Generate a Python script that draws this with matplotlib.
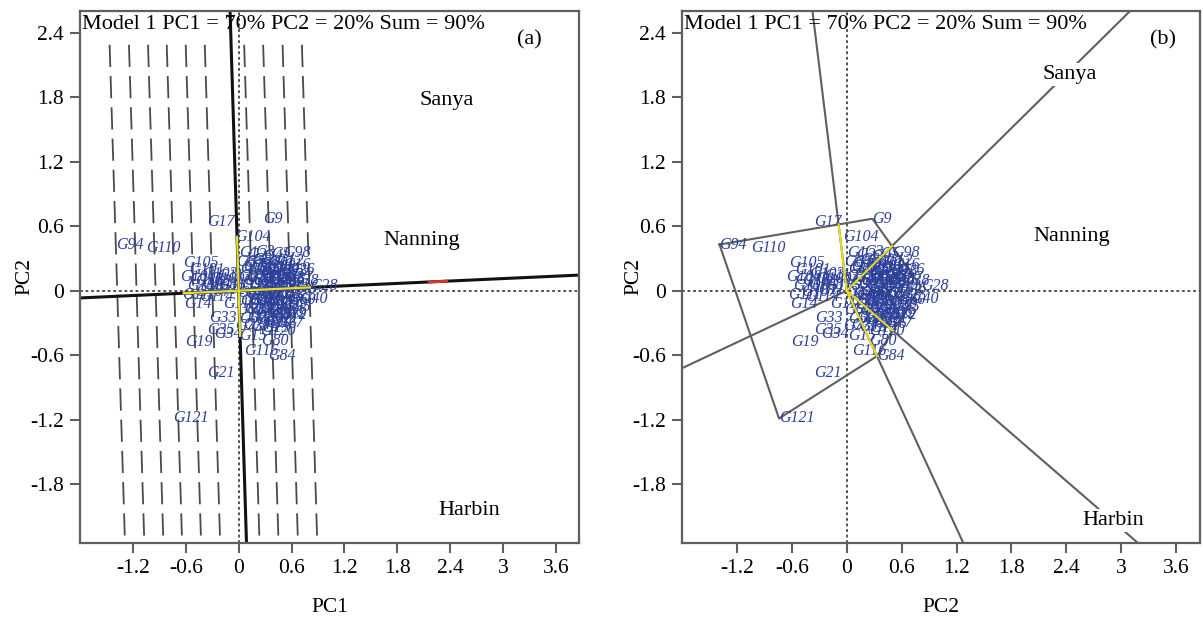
import numpy as np
import matplotlib.pyplot as plt

plt.rcParams['font.family'] = ['Liberation Serif', 'DejaVu Serif']
plt.rcParams['lines.scale_dashes'] = False

# genotype scores (PC1, PC2), same scores in both panels
geno_names = [
    "G94", "G110", "G17", "G9", "G104", "G98", "G105", "G28", "G40", "G14",
    "G19", "G21", "G121", "G84", "G80", "G116", "G33", "G35", "G13", "G34",
    "G15",
    "G100", "G101", "G102", "G103", "G106", "G107", "G108", "G109", "G111",
    "G112", "G113", "G114", "G115", "G117", "G118",
    "G1", "G2", "G3", "G4", "G5", "G6", "G7", "G8", "G10", "G11",
    "G12", "G16", "G18", "G20", "G22", "G23", "G24", "G25", "G26", "G27",
    "G29", "G30", "G31", "G32", "G36", "G37", "G38", "G39", "G41", "G42",
    "G43", "G44", "G45", "G46", "G47", "G48", "G49", "G50", "G51", "G52",
    "G53", "G54", "G55", "G56", "G57", "G58", "G59", "G60", "G61", "G62",
    "G63", "G64", "G65", "G66", "G67", "G68", "G69", "G70", "G71", "G72",
    "G73", "G74", "G75", "G76", "G77",
    "G78", "G79", "G81", "G82", "G83", "G85", "G86", "G87", "G88", "G89",
    "G90", "G91", "G92", "G93", "G95", "G96", "G97", "G99", "G119", "G120",
]
geno_pc1 = [
    -1.39, -1.05, -0.36, 0.28, -0.04, 0.50, -0.63, 0.81, 0.70, -0.62,
    -0.61, -0.36, -0.74, 0.33, 0.25, 0.06, -0.34, -0.36, 0.26, -0.28,
    0.01,
    -0.66, -0.56, -0.49, -0.41, -0.59, -0.50, -0.42, -0.33, -0.64,
    -0.31, -0.25, -0.45, -0.22, -0.18, -0.56,
    0.00, 0.10, 0.19, 0.28, 0.37, -0.03, 0.06, 0.15, 0.24, 0.33,
    0.42, 0.50, 0.02, 0.11, 0.20, 0.29, 0.38, 0.47, 0.55, -0.01,
    0.08, 0.17, 0.26, 0.35, 0.44, 0.53, 0.60, 0.03, 0.12, 0.21,
    0.30, 0.39, 0.48, 0.57, -0.02, 0.07, 0.16, 0.25, 0.34, 0.43,
    0.52, 0.02, 0.11, 0.20, 0.29, 0.38, 0.47, 0.56, -0.03, 0.06,
    0.15, 0.24, 0.33, 0.42, 0.01, 0.10, 0.19, 0.28, 0.37, 0.46,
    -0.04, 0.05, 0.14, 0.35, 0.42,
    0.05, 0.14, 0.24, 0.33, 0.42, 0.05, 0.15, 0.25, 0.34, 0.44,
    0.10, 0.20, 0.30, 0.40, 0.50, 0.09, 0.19, 0.29, 0.38, 0.24,
]
geno_pc2 = [
    0.43, 0.40, 0.64, 0.67, 0.50, 0.35, 0.26, 0.04, -0.08, -0.12,
    -0.48, -0.77, -1.19, -0.61, -0.47, -0.56, -0.25, -0.37, -0.35, -0.40,
    -0.42,
    0.13, 0.19, 0.09, 0.16, 0.04, -0.01, 0.05, 0.11, -0.04,
    0.01, 0.14, -0.06, 0.04, -0.12, 0.10,
    0.35, 0.33, 0.36, 0.32, 0.34, 0.27, 0.26, 0.29, 0.25, 0.27,
    0.28, 0.24, 0.20, 0.19, 0.21, 0.18, 0.20, 0.17, 0.19, 0.13,
    0.12, 0.14, 0.11, 0.13, 0.10, 0.12, 0.09, 0.05, 0.06, 0.04,
    0.06, 0.03, 0.05, 0.02, -0.02, -0.03, -0.01, -0.04, -0.02, -0.03,
    -0.05, -0.10, -0.09, -0.11, -0.08, -0.10, -0.12, -0.09, -0.18, -0.17,
    -0.19, -0.16, -0.18, -0.20, -0.26, -0.25, -0.27, -0.24, -0.26, -0.23,
    -0.33, -0.32, -0.34, -0.31, -0.30,
    0.22, 0.23, 0.16, 0.22, 0.15, 0.09, 0.10, 0.01, 0.09, 0.07,
    -0.05, -0.06, -0.13, -0.06, -0.15, -0.13, -0.22, -0.30, -0.22, -0.38,
]

# which-won-where polygon vertices, in drawing order
vertex_names = ["G94", "G9", "G28", "G84", "G121"]

# environment labels
env_names = ["Sanya", "Nanning", "Harbin"]
env_a_pc1 = [2.36, 2.07, 2.61]
env_a_pc2 = [1.77, 0.465, -2.05]
env_b_pc1 = [2.44, 2.46, 2.91]
env_b_pc2 = [2.01, 0.50, -2.14]

# average environment (red mark on the AEC abscissa)
avg_env_pc1 = 2.26
avg_env_pc2 = 0.085

# ranking lines (perpendicular to AEC abscissa), read where they cross it
rank_lines = [-1.376, -1.157, -0.941, -0.729, -0.514, -0.298,
              0.148, 0.363, 0.583, 0.802]
# genotypes whose projections bound the yellow parts of the AEC axes
aec_span = ("G14", "G28")
ord_span = ("G15", "G104")

xtick_vals = [-1.2, -0.6, 0, 0.6, 1.2, 1.8, 2.4, 3, 3.6]
xtick_text = ["-1.2", "-0.6", "0", "0.6", "1.2", "1.8", "2.4", "3", "3.6"]
ytick_vals = [-1.8, -1.2, -0.6, 0, 0.6, 1.2, 1.8, 2.4]
ytick_text = ["-1.8", "-1.2", "-0.6", "0", "0.6", "1.2", "1.8", "2.4"]

title_txt = "Model 1 PC1 = 70% PC2 = 20% Sum = 90%"

GRAY = "#5f5f5f"
BLUE = "#2c3f99"
YELLOW = "#e6df1e"
XLIM = (-1.80, 3.86)
YLIM = (-2.35, 2.605)

geno = {n: (x, y) for n, x, y in zip(geno_names, geno_pc1, geno_pc2)}


def setup_axes(ax, xlabel, panel, panel_x, ylab_x):
    ax.set_xlim(*XLIM)
    ax.set_ylim(*YLIM)
    ax.set_xticks(xtick_vals)
    ax.set_xticklabels(xtick_text)
    ax.set_yticks(ytick_vals)
    ax.set_yticklabels(ytick_text)
    ax.tick_params(direction="out", length=7.5, width=1.5, color=GRAY,
                   labelsize=15.5, pad=4, top=False, right=False)
    for sp in ax.spines.values():
        sp.set_color(GRAY)
        sp.set_linewidth(1.6)
    ax.set_xlabel(xlabel, fontsize=15.5)
    ax.set_ylabel("PC2", fontsize=15.5)
    ax.xaxis.set_label_coords(0.5, -0.103)
    ax.yaxis.set_label_coords(ylab_x, 0.5)
    # dotted reference axes
    ax.axhline(0, color="#222222", lw=1.1, dashes=(2, 2), zorder=1)
    ax.axvline(0, color="#222222", lw=1.1, dashes=(2, 2), zorder=1)
    ax.text(0.004, 0.993, title_txt, transform=ax.transAxes, ha="left",
            va="top", fontsize=16, zorder=6)
    ax.text(panel_x, 0.945, panel, transform=ax.transAxes, ha="center",
            va="center", fontsize=16)


def draw_genotypes(ax):
    for n, x, y in zip(geno_names, geno_pc1, geno_pc2):
        ax.text(x, y, n, ha="left", va="center", fontsize=11.5,
                style="italic", color=BLUE, clip_on=True, zorder=3)


fig = plt.figure(figsize=(12.03, 6.24), dpi=100)
ax_a = fig.add_axes([0.0665, 0.1298, 0.4148, 0.8526])
ax_b = fig.add_axes([0.5669, 0.1298, 0.4306, 0.8526])

# ---- (a) mean vs stability view
setup_axes(ax_a, "PC1", "(a)", 0.90, -0.092)
s = avg_env_pc2 / avg_env_pc1
nrm = np.sqrt(1 + s * s)
t = np.array([-6.0, 6.0])
ax_a.plot(t, s * t, color="#111111", lw=2.2, zorder=2)
ax_a.plot(-s * t, t, color="#111111", lw=2.2, zorder=2)
for p in rank_lines:
    yy = np.array([2.29, -2.40])
    ax_a.plot(p - s * (yy - s * p), yy, color="#4a4a4a", lw=1.3,
              dashes=(16, 6.5), zorder=1)

# yellow stretches of the AEC axes
u = np.array([1, s]) / nrm
v = np.array([-s, 1]) / nrm
pa = [np.dot(geno[n], u) for n in aec_span]
pv = [np.dot(geno[n], v) for n in ord_span]
ax_a.plot([pa[0] * u[0], pa[1] * u[0]], [pa[0] * u[1], pa[1] * u[1]],
          color=YELLOW, lw=1.6, zorder=4)
ax_a.plot([pv[0] * v[0], pv[1] * v[0]], [pv[0] * v[1], pv[1] * v[1]],
          color=YELLOW, lw=1.6, zorder=4)
# average environment mark
ax_a.plot([avg_env_pc1 - 0.1, avg_env_pc1 + 0.1],
          [s * (avg_env_pc1 - 0.1), s * (avg_env_pc1 + 0.1)],
          color="#e03030", lw=2.0, zorder=4)
draw_genotypes(ax_a)
for n, x, y in zip(env_names, env_a_pc1, env_a_pc2):
    ax_a.text(x, y, n, ha="center", va="center", fontsize=16, zorder=5)

# ---- (b) which-won-where view
setup_axes(ax_b, "PC2", "(b)", 0.928, -0.075)
verts = np.array([geno[n] for n in vertex_names])
closed = np.vstack([verts, verts[:1]])
ax_b.plot(closed[:, 0], closed[:, 1], color=GRAY, lw=1.5, zorder=2)
for i in range(len(verts)):
    p1, p2 = closed[i], closed[i + 1]
    d = p2 - p1
    nv = np.array([d[1], -d[0]])
    if np.dot(nv, p1) < 0:
        nv = -nv
    foot = np.dot(nv, p1) / np.dot(nv, nv) * nv
    far = nv / np.linalg.norm(nv) * 10
    ax_b.plot([0, far[0]], [0, far[1]], color=GRAY, lw=1.5, zorder=2)
    if np.linalg.norm(foot) < 0.8:
        ax_b.plot([0, foot[0]], [0, foot[1]], color=YELLOW, lw=1.4, zorder=4)
draw_genotypes(ax_b)
for n, x, y in zip(env_names, env_b_pc1, env_b_pc2):
    ax_b.text(x, y, n, ha="center", va="center", fontsize=16, zorder=5,
              bbox=dict(facecolor="white", edgecolor="none", pad=1.5))

fig.savefig("out.png", dpi=100)
